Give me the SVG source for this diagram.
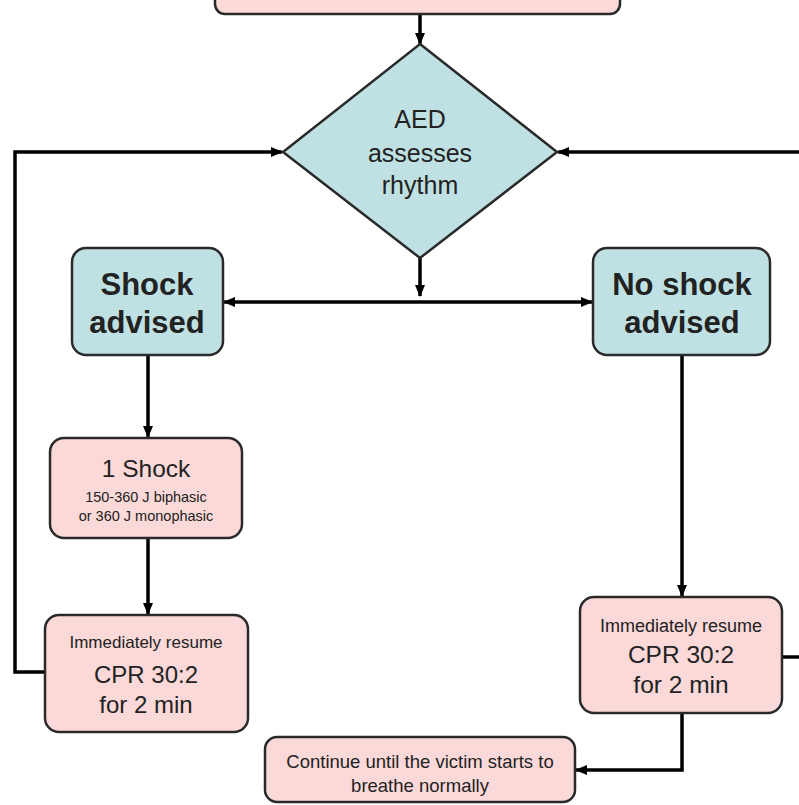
<svg xmlns="http://www.w3.org/2000/svg" width="799" height="805" viewBox="0 0 799 805">
<style>
.pink{fill:#fbd9d9;stroke:#2a2a2a;stroke-width:2.5}
.blue{fill:#c0e1e3;stroke:#2a2a2a;stroke-width:2.5}
.t{font-family:"Liberation Sans",Arial,sans-serif;fill:#222;text-anchor:middle}
.b{font-weight:bold}
.c{fill:none;stroke:#000;stroke-width:3.5}
</style>
<defs>
<marker id="ah" viewBox="0 0 12 10" refX="11" refY="5" markerWidth="12" markerHeight="10" markerUnits="userSpaceOnUse" orient="auto-start-reverse">
<path d="M0,0 L12,5 L0,10 Z" fill="#000"/>
</marker>
</defs>
<rect width="799" height="805" fill="#fff"/>
<g id="connectors">
<line class="c" x1="420" y1="14" x2="420" y2="44" marker-end="url(#ah)"/>
<line class="c" x1="420" y1="258" x2="420" y2="296" marker-end="url(#ah)"/>
<line class="c" x1="224" y1="302" x2="592" y2="302" marker-start="url(#ah)" marker-end="url(#ah)"/>
<line class="c" x1="148" y1="355" x2="148" y2="437" marker-end="url(#ah)"/>
<line class="c" x1="148" y1="538" x2="148" y2="614" marker-end="url(#ah)"/>
<line class="c" x1="682" y1="355" x2="682" y2="596" marker-end="url(#ah)"/>
<polyline class="c" points="45,672 15,672 15,152 282,152" marker-end="url(#ah)"/>
<polyline class="c" points="782,657 799,657"/>
<line class="c" x1="799" y1="152" x2="558" y2="152" marker-end="url(#ah)"/>
<polyline class="c" points="682,713 682,770 576,770" marker-end="url(#ah)"/>
</g>
<g id="top-box">
<rect class="pink" x="215" y="-20" width="405" height="34" rx="10"/>
</g>
<g id="aed">
<polygon class="blue" points="420,44 557,152 420,258 283,152"/>
<text class="t" x="420" y="128" font-size="25">AED</text>
<text class="t" x="420" y="162" font-size="25">assesses</text>
<text class="t" x="420" y="194" font-size="25">rhythm</text>
</g>
<g id="shock-advised">
<rect class="blue" x="72" y="248" width="151" height="107" rx="14"/>
<text class="t b" x="147" y="295" font-size="31">Shock</text>
<text class="t b" x="147" y="333" font-size="31">advised</text>
</g>
<g id="no-shock-advised">
<rect class="blue" x="593" y="248" width="177" height="107" rx="14"/>
<text class="t b" x="682" y="295" font-size="31">No shock</text>
<text class="t b" x="682" y="333" font-size="31">advised</text>
</g>
<g id="one-shock">
<rect class="pink" x="50" y="438" width="192" height="100" rx="14"/>
<text class="t" x="146" y="477" font-size="24.5">1 Shock</text>
<text class="t" x="146" y="502" font-size="14.5">150-360 J biphasic</text>
<text class="t" x="146" y="521" font-size="14.5">or 360 J monophasic</text>
</g>
<g id="cpr-left">
<rect class="pink" x="45" y="615" width="203" height="117" rx="14"/>
<text class="t" x="146" y="648" font-size="17">Immediately resume</text>
<text class="t" x="146" y="683" font-size="24">CPR 30:2</text>
<text class="t" x="146" y="713" font-size="24">for 2 min</text>
</g>
<g id="cpr-right">
<rect class="pink" x="580" y="597" width="202" height="116" rx="14"/>
<text class="t" x="681" y="632" font-size="18">Immediately resume</text>
<text class="t" x="681" y="663" font-size="24.5">CPR 30:2</text>
<text class="t" x="681" y="693" font-size="24.5">for 2 min</text>
</g>
<g id="continue">
<rect class="pink" x="265" y="737" width="310" height="65" rx="12"/>
<text class="t" x="420" y="768" font-size="18.5">Continue until the victim starts to</text>
<text class="t" x="420" y="792" font-size="18.5">breathe normally</text>
</g>
</svg>
